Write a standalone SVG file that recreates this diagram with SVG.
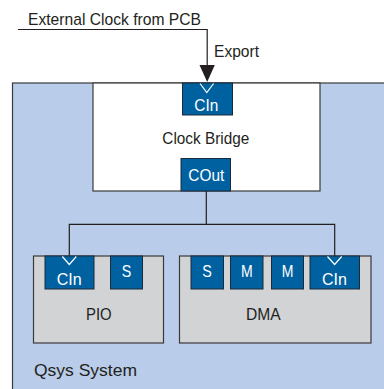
<svg xmlns="http://www.w3.org/2000/svg" width="384" height="389" viewBox="0 0 384 389">
<style>
text{font-family:"Liberation Sans",Arial,sans-serif;font-size:17px;fill:#231f20;}
.port{fill:#0061a1;stroke:#1b2a3a;stroke-width:1;}
.pt{fill:#ffffff;text-anchor:middle;}
.comp{fill:#d1d3d4;stroke:#3a3a3a;stroke-width:1.2;}
.chev{fill:none;stroke:#ffffff;stroke-width:1.2;}
.wire{fill:none;stroke:#231f20;stroke-width:1.2;}
.mid{text-anchor:middle;}
</style>
<rect width="384" height="389" fill="#ffffff"/>
<g id="qsys">
<rect x="12.5" y="83" width="380" height="320" fill="#b9cce9" stroke="#3a3a3a" stroke-width="1.2"/>
<text x="34" y="376" font-size="18" textLength="103" lengthAdjust="spacingAndGlyphs">Qsys System</text>
</g>
<g id="external">
<text x="28" y="25" textLength="173" lengthAdjust="spacingAndGlyphs">External Clock from PCB</text>
<text x="214" y="57" textLength="45" lengthAdjust="spacingAndGlyphs">Export</text>
</g>
<g id="clock-bridge">
<rect x="93" y="83" width="227" height="108" fill="#ffffff" stroke="#3a3a3a" stroke-width="1.2"/>
<text class="mid" x="205.8" y="144" textLength="87" lengthAdjust="spacingAndGlyphs">Clock Bridge</text>
<rect class="port" x="182.5" y="83" width="50" height="32"/>
<polyline class="chev" points="200,83.5 206.8,92.5 213.6,83.5"/>
<text class="pt" x="206.3" y="110.7" textLength="24" lengthAdjust="spacingAndGlyphs">CIn</text>
<rect class="port" x="181" y="158.5" width="49.5" height="32.5"/>
<text class="pt" x="206.3" y="180.5" textLength="36" lengthAdjust="spacingAndGlyphs">COut</text>
</g>
<g id="connectors">
<polyline class="wire" points="18,29.5 207.2,29.5 207.2,66"/>
<polygon points="199.5,65 214.8,65 207.2,82" fill="#231f20"/>
<line class="wire" x1="206.3" y1="191" x2="206.3" y2="224.3"/>
<polyline class="wire" points="69.3,256 69.3,224.3 334.7,224.3 334.7,256"/>
</g>
<g id="pio">
<rect class="comp" x="33.5" y="256" width="130" height="87"/>
<rect class="port" x="45" y="256" width="49" height="33"/>
<polyline class="chev" points="62.3,256.5 69.3,264.5 76.3,256.5"/>
<text class="pt" x="69.2" y="285" textLength="25" lengthAdjust="spacingAndGlyphs">CIn</text>
<rect class="port" x="110.5" y="256" width="32" height="33"/>
<text class="pt" x="126.5" y="276.7" textLength="9.5" lengthAdjust="spacingAndGlyphs">S</text>
<text class="mid" x="98.8" y="319.5" textLength="25.7" lengthAdjust="spacingAndGlyphs">PIO</text>
</g>
<g id="dma">
<rect class="comp" x="179.5" y="256" width="191.5" height="87"/>
<rect class="port" x="191" y="256" width="32.5" height="33"/>
<text class="pt" x="207.1" y="276.7" textLength="9.5" lengthAdjust="spacingAndGlyphs">S</text>
<rect class="port" x="230.5" y="256" width="32.5" height="33"/>
<text class="pt" x="246.8" y="276.7" textLength="11.7" lengthAdjust="spacingAndGlyphs">M</text>
<rect class="port" x="271.5" y="256" width="32" height="33"/>
<text class="pt" x="287.6" y="276.7" textLength="11.7" lengthAdjust="spacingAndGlyphs">M</text>
<rect class="port" x="310" y="256" width="49.5" height="33"/>
<polyline class="chev" points="327.5,256.5 334.6,264.5 341.7,256.5"/>
<text class="pt" x="334.4" y="285" textLength="25" lengthAdjust="spacingAndGlyphs">CIn</text>
<text class="mid" x="263.3" y="320" textLength="34.7" lengthAdjust="spacingAndGlyphs">DMA</text>
</g>
</svg>
